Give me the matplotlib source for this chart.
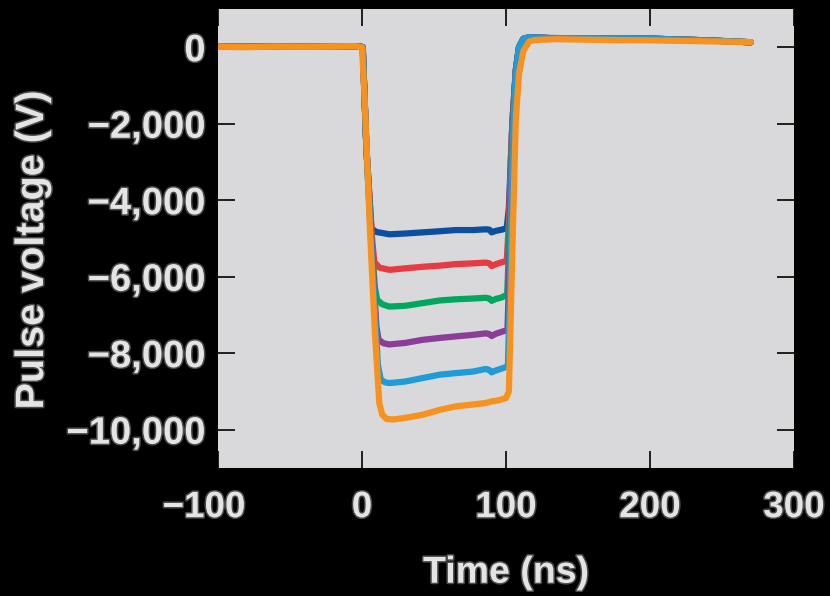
import numpy as np
import matplotlib
matplotlib.use("Agg")
import matplotlib.pyplot as plt
import matplotlib.patheffects as pe
from matplotlib.ticker import FuncFormatter
import matplotlib.transforms as mtransforms

plt.rcParams['font.family'] = ['Liberation Sans', 'DejaVu Sans']
plt.rcParams['font.weight'] = 'bold'

# pulse traces: time (ns), voltage (V)
t_blue = [-100, -60, -20, -1, 0.5, 3, 6.5, 10, 19, 30, 42, 54, 65, 77, 86, 88.5, 90, 93, 97, 100.5, 102, 103.5, 104.5, 106.8, 109, 112, 116, 130, 160, 200, 240, 270]
v_blue = [10, 20, 10, 20, 0, -2600, -4740, -4830, -4890, -4870, -4840, -4810, -4780, -4780, -4760, -4770, -4840, -4800, -4770, -4730, -4200, -2800, -1900, -600, 0, 220, 260, 240, 235, 225, 180, 130]

t_red = [-100, 0, 0.5, 3, 7, 8.5, 12, 19, 30, 42, 54, 65, 77, 86, 88.5, 90, 93, 97, 100.5, 102, 103.5, 104.5, 106.8, 109, 112, 116, 130, 160, 200, 240, 270]
v_red = [10, 10, 0, -2600, -5000, -5610, -5760, -5820, -5780, -5740, -5710, -5670, -5650, -5630, -5650, -5720, -5670, -5620, -5590, -4600, -2800, -1900, -600, 0, 220, 260, 240, 235, 225, 180, 130]

t_green = [-100, 0, 0.5, 3, 7, 9, 10.5, 14, 19, 30, 42, 54, 65, 77, 86, 88.5, 90, 93, 97, 100.8, 102.3, 103.7, 104.7, 106.8, 109, 112, 116, 130, 160, 200, 240, 270]
v_green = [10, 10, 0, -2600, -5300, -6300, -6600, -6720, -6780, -6760, -6690, -6620, -6590, -6570, -6550, -6570, -6630, -6580, -6540, -6470, -5000, -3000, -1950, -600, 0, 220, 260, 240, 235, 225, 180, 130]

t_purple = [-100, 0, 0.5, 3, 7, 10, 11.5, 15, 19, 30, 42, 54, 65, 77, 86, 88.5, 90, 93, 97, 101, 102.5, 103.8, 104.8, 106.8, 109, 112, 116, 130, 160, 200, 240, 270]
v_purple = [10, 10, 0, -2600, -5400, -7300, -7650, -7740, -7770, -7730, -7650, -7600, -7560, -7520, -7480, -7500, -7550, -7490, -7440, -7390, -5600, -3200, -2000, -600, 0, 220, 260, 240, 235, 225, 180, 130]

t_lblue = [-100, 0, 0.5, 3, 7, 11, 13, 16, 19, 30, 42, 54, 65, 77, 86, 88.5, 90, 93, 97, 101.3, 102.8, 104, 105, 106.8, 109, 112, 116, 130, 160, 200, 240, 270]
v_lblue = [10, 10, 0, -2600, -5600, -8300, -8690, -8760, -8780, -8740, -8650, -8560, -8520, -8480, -8410, -8440, -8500, -8450, -8400, -8340, -6200, -3500, -2100, -650, 0, 220, 260, 240, 235, 225, 180, 130]

t_orange = [-100, -80, -60, -40, -20, -5, 0, 2, 5.5, 9, 12, 14, 17, 22, 30, 42, 54, 65, 77, 86, 90, 95, 100, 102, 103, 104.4, 106.8, 109, 112, 116, 120, 135, 160, 200, 240, 270]
v_orange = [10, 0, 20, 10, 20, 30, 0, -1500, -4770, -7500, -9300, -9600, -9720, -9730, -9690, -9610, -9480, -9390, -9340, -9300, -9260, -9230, -9170, -9000, -7500, -5300, -1900, -700, -100, 150, 190, 210, 195, 180, 155, 135]

traces = [
    (t_blue, v_blue, '#0c4f9e'),
    (t_red, v_red, '#e63a44'),
    (t_green, v_green, '#00a85e'),
    (t_purple, v_purple, '#8c3d98'),
    (t_lblue, v_lblue, '#1f9bd8'),
    (t_orange, v_orange, '#f7921f'),
]

fig = plt.figure(figsize=(8.3, 5.96), dpi=100, facecolor='black')
ax = fig.add_axes([0.2627, 0.2148, 0.6939, 0.7701])
ax.set_facecolor('#d9d9db')

for t, v, c in traces:
    ax.plot(t, v, color=c, lw=4.5, solid_joinstyle='round', solid_capstyle='round')

ax.set_xlim(-100, 300)
ax.set_ylim(-11000, 1000)
ax.set_xticks([-100, 0, 100, 200, 300])
ax.set_yticks([0, -2000, -4000, -6000, -8000, -10000])
ax.yaxis.set_major_formatter(FuncFormatter(lambda v, p: ('\u2212' if v < 0 else '') + '{:,}'.format(int(abs(v)))))
ax.xaxis.set_major_formatter(FuncFormatter(lambda v, p: ('\u2212' if v < 0 else '') + '{:d}'.format(int(abs(v)))))

for s in ax.spines.values():
    s.set_visible(False)

ax.tick_params(direction='in', length=12, width=1.2, color='black',
               top=True, right=True, labelsize=26.5, labelcolor='#e4e4e4')
ax.tick_params(axis='y', labelsize=27.5, pad=9)
ax.tick_params(axis='x', pad=16)

outline = [pe.withStroke(linewidth=2.2, foreground='#4a4a4a')]
for lab in ax.get_xticklabels() + ax.get_yticklabels():
    lab.set_fontweight('bold')
    lab.set_path_effects(outline)

# the minus of -100 hangs to the left of the tick
lab0 = ax.get_xticklabels()[0]
lab0.set_transform(lab0.get_transform() + mtransforms.ScaledTranslation(-14 / 100, 0, fig.dpi_scale_trans))

ax.set_xlabel('Time (ns)', fontsize=27, fontweight='bold', color='#e4e4e4',
              path_effects=outline)
ax.set_ylabel('Pulse voltage (V)', fontsize=28.5, fontweight='bold', color='#e4e4e4',
              path_effects=outline)
ax.xaxis.set_label_coords(0.5, -0.189)
ax.yaxis.set_label_coords(-0.29, 0.475)

fig.savefig('out.png', dpi=100, facecolor='black')
